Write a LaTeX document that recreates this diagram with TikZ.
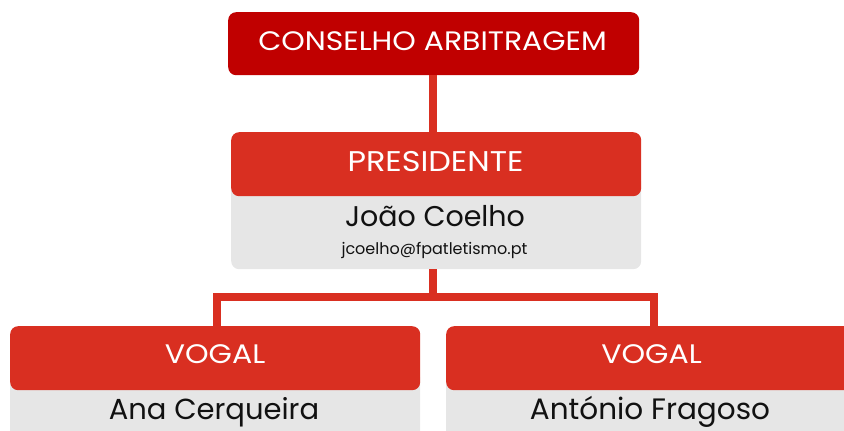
\documentclass[tikz,border=0pt]{standalone}
\usepackage{fontspec}
\setmainfont{Poppins}
\newfontfamily\widefont[FakeStretch=1.12]{Poppins}
\definecolor{darkred}{HTML}{C00000}
\definecolor{mainred}{HTML}{D92F21}
\definecolor{lightgray}{HTML}{E6E6E6}
\definecolor{txt}{HTML}{111111}
\begin{document}
\begin{tikzpicture}[x=1pt,y=-1pt,
  head/.style={fill=mainred, rounded corners=8pt, minimum width=410pt, minimum height=64pt, inner sep=0pt, anchor=north west},
  body/.style={fill=lightgray, rounded corners=8pt, minimum width=410pt, inner sep=0pt, anchor=north west},
  htext/.style={text=white, inner sep=0pt, anchor=base},
  btext/.style={text=txt, inner sep=0pt, anchor=base},
  conn/.style={draw=mainred, line width=8pt}]
\useasboundingbox (0,0) rectangle (844,431);
\clip (0,0) rectangle (844,431);
% top box
\node[head, fill=darkred, minimum width=411pt, minimum height=63pt] (top) at (228,12) {};
\node[htext, font=\widefont\fontsize{26.7}{30}\selectfont] (toptext) at (432.5,50) {CONSELHO ARBITRAGEM};
% president
\node[body, minimum height=95pt] (pbody) at (231,174) {};
\node[head] (phead) at (231,132) {};
\node[htext, font=\widefont\fontsize{28.5}{32}\selectfont] (ptext) at (435.5,171) {PRESIDENTE};
\node[btext, font=\fontsize{28.5}{32}\selectfont] (pname) at (435,226) {João Coelho};
\node[btext, font=\fontsize{16}{20}\selectfont] (pmail) at (434.5,254) {jcoelho@fpatletismo.pt};
% vogals
\node[body, minimum height=120pt] (v1body) at (10,370) {};
\node[head] (v1head) at (10,326) {};
\node[htext, font=\widefont\fontsize{26.8}{30}\selectfont] (v1text) at (215,363) {VOGAL};
\node[btext, font=\fontsize{29}{32}\selectfont] (v1name) at (214,419) {Ana Cerqueira};
\node[body, minimum height=120pt] (v2body) at (446,370) {};
\node[head] (v2head) at (446,326) {};
\node[htext, font=\widefont\fontsize{26.8}{30}\selectfont] (v2text) at (651.5,363) {VOGAL};
\node[btext, font=\fontsize{29.5}{32}\selectfont] (v2name) at (650,419) {António Fragoso};
% connectors
\coordinate (j) at (433,297);
\coordinate (jl) at (217,297);
\coordinate (jr) at (654,297);
\draw[conn] (top.south -| j) -- (phead.north -| j);
\draw[conn] (pbody.south -| j) -- (j);
\draw[conn] (v1head.north -| jl) -- (jl) -- (jr) -- (v2head.north -| jr);
\end{tikzpicture}
\end{document}
